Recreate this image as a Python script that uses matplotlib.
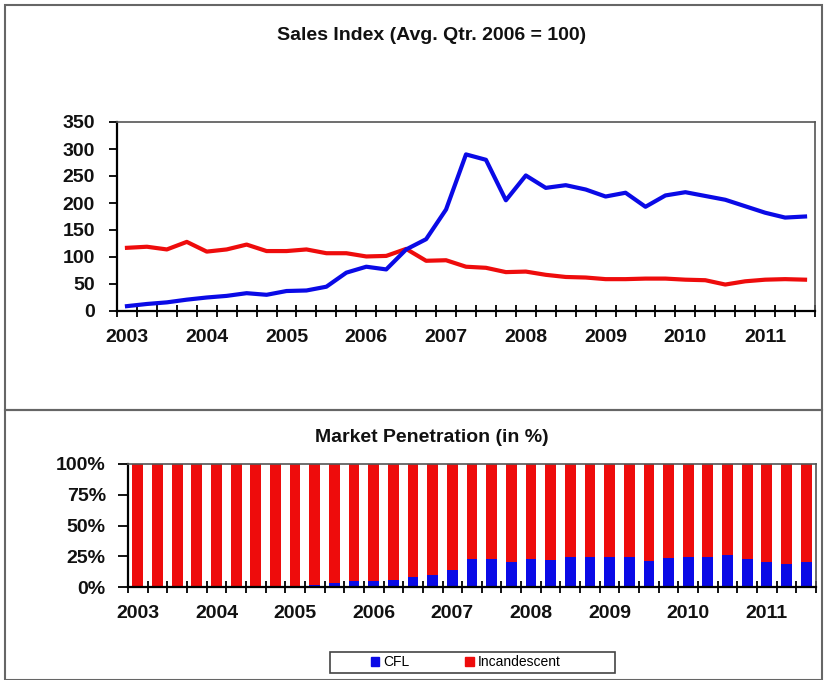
import matplotlib.pyplot as plt
import matplotlib.patches as mpatches
import numpy as np

plt.rcParams['font.family'] = ['Liberation Sans', 'DejaVu Sans']

# quarterly data 2003Q1 .. 2011Q3
years = ['2003', '2004', '2005', '2006', '2007', '2008', '2009', '2010', '2011']
cfl_index = [9, 13, 16, 21, 25, 28, 33, 30, 37, 38, 45, 71, 82, 77, 114, 133,
             188, 290, 280, 205, 251, 228, 233, 225, 212, 219, 193, 214,
             220, 213, 206, 194, 182, 173, 175]
inc_index = [117, 119, 114, 128, 110, 114, 123, 111, 111, 114, 107, 107, 101, 102, 115, 93,
             94, 82, 80, 72, 73, 67, 63, 62, 59, 59, 60, 60,
             58, 57, 49, 55, 58, 59, 58]
cfl_share = [0.5, 0.5, 0.5, 0.5, 1, 1, 1, 1, 1, 2, 3, 5, 5, 6, 8, 10,
             14, 22.5, 22.5, 20, 22.5, 22, 24, 24, 24, 24, 21.5, 23.5,
             24.5, 24, 26, 22.5, 20.5, 19, 20.5]
inc_share = [100 - v for v in cfl_share]

blue = '#0a0ae6'
red = '#ee0c0c'
fs = 14

x = np.arange(len(cfl_index))
W, H = 827, 680
fig = plt.figure(figsize=(8.27, 6.8), dpi=100)

def setup_xaxis(ax):
    ax.set_xlim(-0.5, len(x) - 0.5)
    ax.set_xticks(np.arange(-0.5, len(x), 1))
    ax.set_xticklabels([])
    ax.tick_params(axis='x', which='major', direction='inout', length=9, width=1.3, color='black')
    ax.set_xticks(np.arange(0, len(x), 4), minor=True)
    ax.set_xticklabels(years, minor=True, fontsize=fs, fontweight='bold', color='#111111')
    ax.tick_params(axis='x', which='minor', length=0, pad=13)
    for s in ['top', 'right']:
        ax.spines[s].set_color('#555555')
        ax.spines[s].set_linewidth(1.2)
    for s in ['left', 'bottom']:
        ax.spines[s].set_linewidth(1.6)

# top panel
ax1 = fig.add_axes([117 / W, 1 - 311 / H, (815 - 117) / W, (311 - 122) / H])
ax1.plot(x, inc_index, color=red, lw=3, solid_joinstyle='round')
ax1.plot(x, cfl_index, color=blue, lw=3, solid_joinstyle='round')
ax1.set_ylim(0, 350)
ax1.set_yticks(range(0, 351, 50))
ax1.set_yticklabels([str(v) for v in range(0, 351, 50)], fontsize=fs, fontweight='bold', color='#111111')
ax1.tick_params(axis='y', length=6, width=1.3, pad=10)
setup_xaxis(ax1)
fig.text(432 / W, 1 - 36 / H, 'Sales Index (Avg. Qtr. 2006 = 100)', ha='center', va='center',
         fontsize=14, fontweight='bold', color='#111111')

# bottom panel
ax2 = fig.add_axes([128 / W, 1 - 587 / H, (816 - 128) / W, (587 - 464) / H])
ax2.bar(x, cfl_share, width=0.55, color=blue)
ax2.bar(x, inc_share, width=0.55, bottom=cfl_share, color=red)
ax2.set_ylim(0, 100)
ax2.set_yticks([0, 25, 50, 75, 100])
ax2.set_yticklabels(['0%', '25%', '50%', '75%', '100%'], fontsize=fs, fontweight='bold', color='#111111')
ax2.tick_params(axis='y', length=7, width=1.3, pad=9)
setup_xaxis(ax2)
fig.text(432 / W, 1 - 438 / H, 'Market Penetration (in %)', ha='center', va='center',
         fontsize=14, fontweight='bold', color='#111111')

# panel borders
fig.add_artist(mpatches.Rectangle((5 / W, 1 - 410 / H), 817 / W, 405 / H, transform=fig.transFigure,
                                  fill=False, edgecolor='#666666', lw=1.5))
fig.add_artist(mpatches.Rectangle((5 / W, 0), 817 / W, 270 / H, transform=fig.transFigure,
                                  fill=False, edgecolor='#666666', lw=1.5))

# legend
fig.add_artist(mpatches.Rectangle((330 / W, 1 - 673 / H), 285 / W, 21 / H, transform=fig.transFigure,
                                  fill=False, edgecolor='#444444', lw=1.2))
handles = [mpatches.Patch(color=blue, label='CFL'), mpatches.Patch(color=red, label='Incandescent')]
fig.legend(handles=handles, loc='center', bbox_to_anchor=(466 / W, 1 - 662 / H), ncol=2,
           fontsize=10, frameon=False, handlelength=0.6, handleheight=0.6, handletextpad=0.3,
           columnspacing=4, borderpad=0.2)

fig.savefig('out.png', dpi=100)
